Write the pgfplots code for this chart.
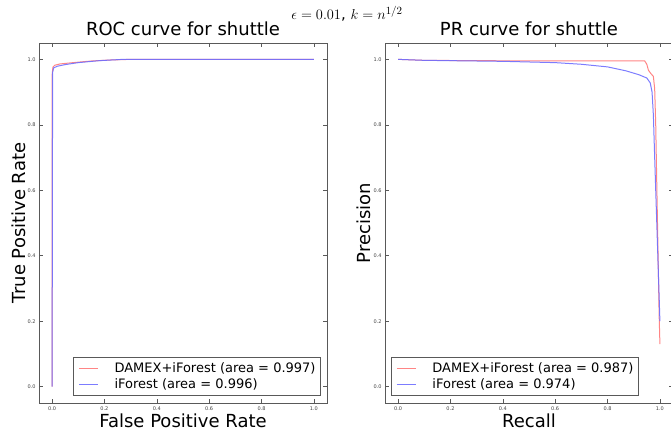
\documentclass[border=0pt]{standalone}
\usepackage{fontspec}
\setmainfont{DejaVu Sans}
\usepackage{pgfplots}
\pgfplotsset{compat=1.18}

\definecolor{damex}{RGB}{255,120,120}
\definecolor{ifor}{RGB}{110,110,255}

\pgfplotsset{
  rocpr/.style={
    scale only axis,
    width=288pt, height=360pt,
    anchor=south west,
    xmin=-0.05, xmax=1.05, ymin=-0.05, ymax=1.05,
    xtick={0,0.2,...,1.0}, ytick={0,0.2,...,1.0},
    tick align=inside,
    xtick pos=both, ytick pos=both,
    major tick length=4pt,
    axis line style={black!65, line width=0.8pt},
    tick style={black!65, line width=0.6pt},
    ticklabel style={font=\fontsize{5}{6}\selectfont, text=black!75},
    /pgf/number format/assume math mode=true,
    /pgf/number format/.cd, fixed, fixed zerofill, precision=1, /pgfplots/.cd,
    title style={font=\fontsize{18}{20}\selectfont, at={(axis description cs:0.5,1)}, anchor=base, yshift=1pt},
    xlabel style={font=\fontsize{18}{20}\selectfont, at={(axis description cs:0.5,-0.067)}, anchor=base},
    ylabel style={font=\fontsize{18}{20}\selectfont, anchor=base},
    legend style={font=\fontsize{13}{15}\selectfont, draw=black!65, line width=0.8pt,
      inner xsep=5pt, inner ysep=3.5pt, row sep=1pt,
      nodes={inner xsep=0pt, inner ysep=2pt}, cells={anchor=west},
      /tikz/every odd column/.append style={column sep=16pt}},
    legend image code/.code={%
      \draw[#1, line width=1pt, opacity=0.9] (5pt,0pt) -- (24pt,0pt);},
    every axis plot/.append style={line width=1pt, opacity=0.9},
  }
}

\begin{document}
\begin{tikzpicture}
\path[use as bounding box] (0pt,0pt) rectangle (671pt,-430pt);

\node[anchor=base, font=\fontsize{15}{17}\selectfont] at (347pt,-20pt) {$\epsilon = 0.01$, $k = n^{1/2}$};

\begin{axis}[rocpr,
  at={(39pt,-403pt)},
  title={ROC curve for shuttle},
  xlabel={False Positive Rate},
  ylabel={True Positive Rate},
  ylabel style={at={(axis description cs:-0.0486,0.5)}},
  legend style={at={(0.979,0.019)}, anchor=south east},
]
\addplot[color=damex] coordinates {
  (0,0) (0.0,0.95) (0.003,0.976) (0.01,0.982) (0.03,0.986) (0.08,0.99)
  (0.15,0.995) (0.22,0.998) (0.3,1.0) (1,1)
};
\addlegendentry{DAMEX+iForest (area = 0.997)}
\addplot[color=ifor] coordinates {
  (0,0) (0.001,0.5) (0.002,0.96) (0.006,0.974) (0.02,0.979) (0.05,0.984)
  (0.1,0.99) (0.18,0.996) (0.27,1.0) (1,1)
};
\addlegendentry{iForest (area = 0.996)}
\end{axis}

\begin{axis}[rocpr,
  at={(385pt,-403pt)},
  title={PR curve for shuttle},
  xlabel={Recall},
  ylabel={Precision},
  ylabel style={at={(axis description cs:-0.052,0.5)}},
  legend style={at={(0.021,0.019)}, anchor=south west},
]
\addplot[color=damex] coordinates {
  (0,1.0) (0.1,0.997) (0.3,0.996) (0.6,0.995) (0.9,0.995) (0.942,0.995)
  (0.95,0.985) (0.956,0.967) (0.965,0.957) (0.975,0.948) (0.98,0.91)
  (0.984,0.8) (0.988,0.62) (0.993,0.4) (0.997,0.22) (1.0,0.13)
};
\addlegendentry{DAMEX+iForest (area = 0.987)}
\addplot[color=ifor] coordinates {
  (0,1.0) (0.1,0.997) (0.2,0.996) (0.4,0.994) (0.6,0.99) (0.7,0.985)
  (0.8,0.977) (0.87,0.965) (0.92,0.953) (0.95,0.943) (0.963,0.928)
  (0.97,0.9) (0.975,0.83) (0.98,0.7) (0.99,0.45) (1.0,0.2)
};
\addlegendentry{iForest (area = 0.974)}
\end{axis}
\end{tikzpicture}
\end{document}
